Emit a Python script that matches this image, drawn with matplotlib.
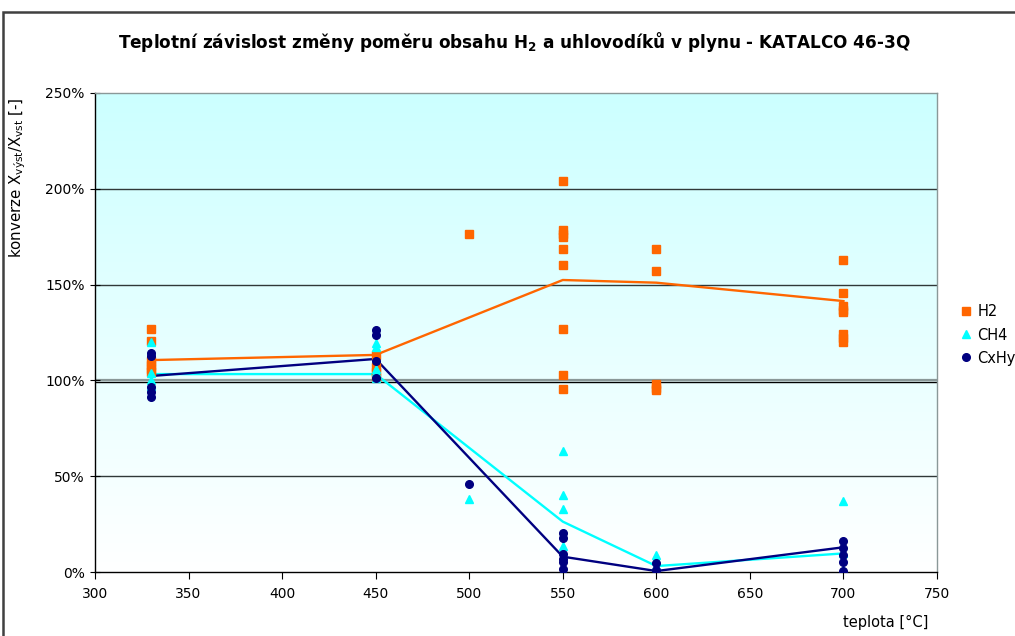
import matplotlib
matplotlib.use("Agg")
import matplotlib.pyplot as plt
import numpy as np
from matplotlib.patches import Rectangle
from matplotlib.ticker import FuncFormatter

plt.rcParams['font.family'] = ['DejaVu Sans']
plt.rcParams['mathtext.default'] = 'regular'

# measured points per temperature (konverze in %)
h2_t = [330] * 6 + [450] * 4 + [500] + [550] * 9 + [600] * 5 + [700] * 8
h2_v = [127, 120.5, 110, 108, 106, 104.5,
        113, 107, 104.5, 102,
        176.5,
        204, 178.5, 176.5, 175, 168.5, 160, 127, 103, 95.5,
        168.5, 157, 98, 96, 95,
        163, 145.5, 139, 137, 135.5, 124, 122, 120]

ch4_t = [330] * 4 + [450] * 5 + [500] + [550] * 5 + [600] * 2 + [700] * 3
ch4_v = [120, 104, 100, 97,
         119.5, 117.5, 106, 104.5, 101.5,
         38,
         63, 40, 33, 13.5, 0,
         9, 3,
         37, 10, 1]

cxhy_t = [330] * 5 + [450] * 4 + [500] + [550] * 6 + [600] * 2 + [700] * 5
cxhy_v = [114.5, 112.5, 96.5, 94, 91.5,
          126.5, 123.5, 110, 101,
          46,
          20.5, 18, 9.5, 7, 5, 1.5,
          4.5, 1,
          16, 12.5, 9, 5, 0.3]

# averaged lines
avg_t = [330, 450, 550, 600, 700]
h2_avg = [110.6, 113.3, 152.4, 151, 141.4]
ch4_avg = [103.3, 103.3, 26.3, 3.1, 9.7]
cxhy_avg = [102.3, 111.2, 8, 0.5, 12.9]

c_h2 = '#FF6600'
c_ch4 = '#00FFFF'
c_cxhy = '#000080'

fig = plt.figure(figsize=(10.15, 6.36), dpi=100)
fig.patches.append(Rectangle((3 / 1015, -0.1), 1.1, (636 - 12) / 636 + 0.1,
                             transform=fig.transFigure, fill=False,
                             edgecolor='#404040', linewidth=1.8))

ax = fig.add_axes([95 / 1015, 64 / 636, 842 / 1015, 479 / 636])

# cyan-to-white fill of the plot area
grad = np.linspace(1, 0, 256).reshape(-1, 1)
top = np.array([0.80, 1.0, 1.0])
bot = np.array([1.0, 1.0, 1.0])
img = top * grad[..., None] + bot * (1 - grad[..., None])
ax.imshow(img, extent=[0, 1, 0, 1], transform=ax.transAxes,
          aspect='auto', zorder=0)

for yv in [50, 150, 200]:
    ax.axhline(yv, color='#303838', linewidth=1.0, zorder=1)
ax.axhline(100, color='#8a9898', linewidth=1.6, zorder=1)
ax.axhline(99, color='black', linewidth=1.0, zorder=1)

ax.plot(avg_t, h2_avg, color=c_h2, linewidth=1.7, zorder=3)
ax.plot(avg_t, ch4_avg, color=c_ch4, linewidth=1.7, zorder=3)
ax.plot(avg_t, cxhy_avg, color=c_cxhy, linewidth=1.7, zorder=3)

ax.plot(h2_t, h2_v, 's', color=c_h2, markersize=5.5, label='H2', zorder=4)
ax.plot(ch4_t, ch4_v, '^', color=c_ch4, markersize=6, label='CH4', zorder=4)
ax.plot(cxhy_t, cxhy_v, 'o', color=c_cxhy, markersize=5.5, label='CxHy', zorder=4)

ax.set_xlim(300, 750)
ax.set_ylim(0, 250)
ax.set_xticks(range(300, 751, 50))
ax.set_yticks(range(0, 251, 50))
ax.yaxis.set_major_formatter(FuncFormatter(lambda v, p: f'{v:.0f}%'))
ax.tick_params(axis='both', labelsize=10, color='black', length=5)
ax.tick_params(axis='y', direction='inout', length=7, pad=4)
ax.tick_params(axis='x', direction='out', pad=6)

for s in ['top', 'right']:
    ax.spines[s].set_color('#8a9898')
    ax.spines[s].set_linewidth(1.0)
for s in ['left', 'bottom']:
    ax.spines[s].set_color('black')
    ax.spines[s].set_linewidth(1.0)

fig.text(514 / 1015, 1 - 42 / 636,
         'Teplotní závislost změny poměru obsahu H$_2$ a uhlovodíků v plynu - KATALCO 46-3Q',
         ha='center', va='center', fontsize=12.2, fontweight='bold')
fig.text(18 / 1015, 1 - 178 / 636,
         'konverze X$_{výst}$/X$_{vst}$ [-]',
         rotation=90, ha='center', va='center', fontsize=10.8)
fig.text(886 / 1015, 1 - 622 / 636, 'teplota [°C]',
         ha='center', va='center', fontsize=10.5)

ax.legend(loc='center left', bbox_to_anchor=(954 / 1015, 1 - 335 / 636),
          bbox_transform=fig.transFigure, frameon=False, fontsize=10.5,
          handlelength=0.8, handletextpad=0.4, labelspacing=0.55,
          borderaxespad=0)

fig.savefig('out.png', dpi=100)
